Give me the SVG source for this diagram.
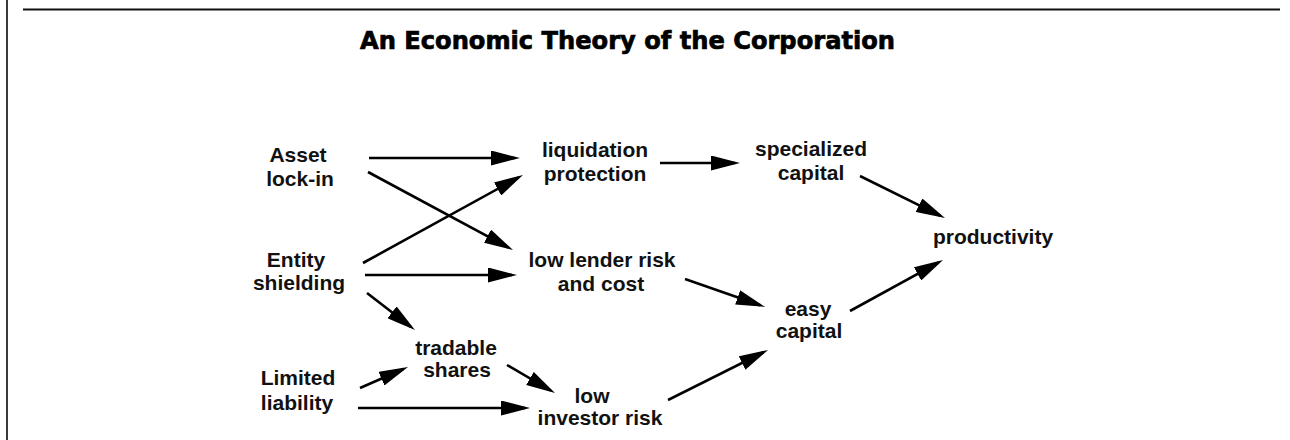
<svg xmlns="http://www.w3.org/2000/svg" width="1290" height="440" viewBox="0 0 1290 440">
  <style>
    .title { font-family: "DejaVu Sans", "Liberation Sans", sans-serif; font-weight: bold; font-size: 24px; fill: #000; stroke: #000; stroke-width: 0.7; }
    .lbl { font-family: "Liberation Sans", Arial, sans-serif; font-weight: bold; font-size: 21px; fill: #111; text-anchor: middle; }
    .edge { stroke: #000; stroke-width: 2.6; fill: none; marker-end: url(#head); }
  </style>
  <defs>
    <marker id="head" markerUnits="userSpaceOnUse" markerWidth="29" markerHeight="15" refX="24" refY="7.5" orient="auto">
      <path d="M0,0 L29,7.5 L0,15 Z" fill="#000"/>
    </marker>
  </defs>

  <rect width="1290" height="440" fill="#fff"/>

  <!-- page frame: left edge and top rule -->
  <line x1="7" y1="0" x2="7" y2="440" stroke="#3a3a3a" stroke-width="2"/>
  <line x1="23" y1="9.5" x2="1280" y2="9.5" stroke="#111" stroke-width="2"/>

  <text class="title" x="360" y="49" textLength="535" lengthAdjust="spacingAndGlyphs">An Economic Theory of the Corporation</text>

  <g id="connectors">
    <path class="edge" d="M369,158 L515,158"/>
    <path class="edge" d="M368,172 L508.6,247.6"/>
    <path class="edge" d="M363,263 L518.6,177.4"/>
    <path class="edge" d="M365,275 L512,275"/>
    <path class="edge" d="M367,293 L411,327"/>
    <path class="edge" d="M360,388 L403.4,369"/>
    <path class="edge" d="M507,365 L550.7,390.5"/>
    <path class="edge" d="M358,408 L525,408"/>
    <path class="edge" d="M660,163 L735,163"/>
    <path class="edge" d="M860,176 L940.5,215.8"/>
    <path class="edge" d="M685,279 L760.3,305.3"/>
    <path class="edge" d="M668,400 L763.5,352.2"/>
    <path class="edge" d="M850,311 L938.6,262.4"/>
  </g>

  <g id="asset-lock-in">
    <text class="lbl" x="298" y="162">Asset</text>
    <text class="lbl" x="300" y="186">lock-in</text>
  </g>
  <g id="entity-shielding">
    <text class="lbl" x="296" y="267">Entity</text>
    <text class="lbl" x="299" y="290">shielding</text>
  </g>
  <g id="limited-liability">
    <text class="lbl" x="298" y="385">Limited</text>
    <text class="lbl" x="297" y="410">liability</text>
  </g>
  <g id="liquidation-protection">
    <text class="lbl" x="595" y="157">liquidation</text>
    <text class="lbl" x="595" y="181">protection</text>
  </g>
  <g id="low-lender-risk">
    <text class="lbl" x="602" y="267">low lender risk</text>
    <text class="lbl" x="601" y="291">and cost</text>
  </g>
  <g id="tradable-shares">
    <text class="lbl" x="456" y="355">tradable</text>
    <text class="lbl" x="457" y="377">shares</text>
  </g>
  <g id="low-investor-risk">
    <text class="lbl" x="592" y="403">low</text>
    <text class="lbl" x="600" y="425">investor risk</text>
  </g>
  <g id="specialized-capital">
    <text class="lbl" x="811" y="156">specialized</text>
    <text class="lbl" x="811" y="180">capital</text>
  </g>
  <g id="easy-capital">
    <text class="lbl" x="808" y="316">easy</text>
    <text class="lbl" x="809" y="338">capital</text>
  </g>
  <g id="productivity">
    <text class="lbl" x="993" y="244">productivity</text>
  </g>
</svg>
